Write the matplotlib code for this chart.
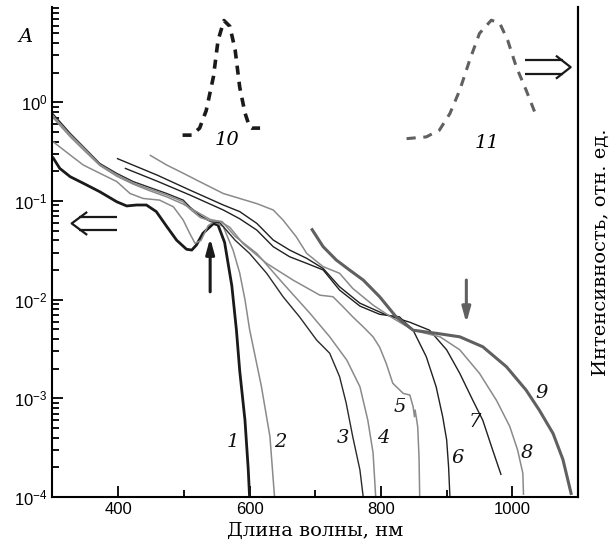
import matplotlib
matplotlib.use("Agg")
import matplotlib.pyplot as plt
from matplotlib.lines import Line2D
from matplotlib.ticker import MultipleLocator, LogLocator, NullFormatter

plt.rcParams["font.family"] = ["Liberation Sans", "DejaVu Sans"]
plt.rcParams["mathtext.fontset"] = "custom"
plt.rcParams["mathtext.rm"] = "Liberation Sans"
plt.rcParams["mathtext.it"] = "Liberation Sans:italic"

# --- absorption spectra, A (log scale) ---
wl_1 = [300, 311, 327, 347, 372, 398, 413, 428, 443, 458, 474, 489, 504, 512, 519, 529,
        545, 552, 562, 573, 580, 585, 593, 598, 600]
A_1 = [0.28, 0.214, 0.176, 0.151, 0.124, 0.098, 0.089, 0.091, 0.091, 0.078, 0.055, 0.040,
       0.0324, 0.0318, 0.0357, 0.047, 0.059, 0.057, 0.038, 0.0138, 0.0049, 0.0019, 0.0006,
       0.00019, 0.0001]

wl_2 = [301, 327, 347, 372, 398, 418, 438, 463, 484, 499, 509, 517, 526, 537, 546, 560,
        575, 585, 593, 600, 618, 631, 638]
A_2 = [0.398, 0.292, 0.231, 0.191, 0.157, 0.119, 0.106, 0.102, 0.0873, 0.064, 0.0468,
       0.0372, 0.0398, 0.0562, 0.0617, 0.055, 0.0316, 0.0186, 0.010, 0.005, 0.00132,
       0.00041, 0.0001]

wl_3 = [300, 327, 347, 372, 398, 423, 448, 474, 499, 509, 525, 540, 555, 578, 600, 626,
        651, 676, 702, 722, 737, 747, 757, 768, 773]
A_3 = [0.773, 0.484, 0.355, 0.24, 0.19, 0.157, 0.137, 0.119, 0.102, 0.087, 0.071, 0.062,
       0.060, 0.040, 0.0294, 0.0185, 0.0107, 0.0067, 0.0039, 0.00286, 0.00166, 0.0009,
       0.00041, 0.000188, 0.0001]

wl_4 = [300, 327, 347, 372, 398, 423, 448, 474, 499, 509, 525, 540, 558, 578, 611, 651,
        692, 722, 748, 768, 780, 788, 792]
A_4 = [0.733, 0.468, 0.347, 0.234, 0.184, 0.151, 0.132, 0.115, 0.098, 0.083, 0.068, 0.063,
       0.062, 0.0437, 0.0294, 0.0146, 0.00726, 0.0042, 0.00244, 0.00131, 0.0006, 0.00028,
       0.0001]

wl_5 = [300, 327, 347, 372, 398, 423, 448, 474, 499, 509, 525, 540, 555, 570, 590, 626,
        666, 707, 727, 742, 757, 773, 788, 798, 808, 818, 834, 844, 849, 851, 852, 854,
        856, 858, 859]
A_5 = [0.708, 0.447, 0.331, 0.229, 0.178, 0.148, 0.127, 0.110, 0.093, 0.085, 0.074, 0.065,
       0.062, 0.054, 0.037, 0.0233, 0.0158, 0.0111, 0.0107, 0.0085, 0.0067, 0.0053, 0.0042,
       0.0033, 0.00226, 0.00142, 0.00112, 0.00108, 0.00082, 0.00065, 0.00076, 0.00063,
       0.00051, 0.00025, 0.0001]

wl_6 = [410, 460, 509, 560, 585, 611, 636, 661, 687, 712, 737, 768, 798, 828, 849, 869,
        884, 894, 900, 903, 905]
A_6 = [0.215, 0.158, 0.115, 0.081, 0.066, 0.0507, 0.0344, 0.0272, 0.0233, 0.020, 0.0125,
       0.0086, 0.0071, 0.0067, 0.0049, 0.00264, 0.00131, 0.00065, 0.00038, 0.0002, 0.0001]

wl_7 = [398, 460, 509, 560, 585, 611, 636, 661, 687, 712, 737, 768, 808, 844, 874, 900,
        920, 940, 955, 970, 983]
A_7 = [0.27, 0.182, 0.129, 0.091, 0.078, 0.0593, 0.0402, 0.0318, 0.0262, 0.0207, 0.0135,
       0.0092, 0.007, 0.0059, 0.0049, 0.0031, 0.00179, 0.00095, 0.0006, 0.0003, 0.000167]

wl_8 = [448, 474, 499, 524, 560, 611, 636, 651, 671, 687, 712, 737, 757, 788, 818, 849,
        879, 890, 920, 950, 976, 996, 1008, 1016, 1017]
A_8 = [0.292, 0.231, 0.191, 0.157, 0.119, 0.094, 0.081, 0.064, 0.0434, 0.0294, 0.0216,
       0.0185, 0.013, 0.0088, 0.0065, 0.0049, 0.00437, 0.0042, 0.0031, 0.00179, 0.00095,
       0.00052, 0.0003, 0.000174, 0.000105]

wl_9 = [694, 712, 732, 752, 773, 798, 823, 849, 884, 920, 955, 991, 1021, 1041, 1062,
        1077, 1090]
A_9 = [0.0527, 0.0344, 0.0252, 0.020, 0.0158, 0.0107, 0.0067, 0.0049, 0.00456, 0.0042,
       0.00333, 0.00209, 0.00121, 0.00076, 0.00044, 0.00024, 0.000105]

# --- luminescence spectra, normalised intensity (right axis) ---
wl_10 = [498, 512, 524, 534, 545, 552, 561, 570, 578, 585, 593, 600, 603, 616]
I_10 = [0.0, 0.0, 0.06, 0.21, 0.50, 0.81, 0.98, 0.93, 0.73, 0.41, 0.19, 0.07, 0.06, 0.06]

wl_11 = [839, 869, 889, 905, 920, 935, 950, 968, 981, 993, 1006, 1021, 1037]
I_11 = [-0.03, -0.015, 0.043, 0.185, 0.385, 0.64, 0.87, 0.983, 0.955, 0.81, 0.584, 0.385,
        0.156]

# curve label positions (wavelength, A)
LABELS = ["1", "2", "3", "4", "5", "6", "7", "8", "9"]
LABEL_WL = [574, 646, 742, 803, 828, 917, 943, 1022, 1044]
LABEL_A = [3.6e-4, 3.6e-4, 4.0e-4, 4.0e-4, 8.2e-4, 2.5e-4, 5.8e-4, 2.8e-4, 1.13e-3]

BLACK = "#1a1a1a"
GRAY = "#8a8a8a"
DGRAY = "#606060"

fig = plt.figure(figsize=(6.14, 5.53), dpi=100)
ax = fig.add_axes([0.0855, 0.1013, 0.8559, 0.8857])

spectra = [
    (wl_1, A_1, BLACK, 2.0),
    (wl_2, A_2, GRAY, 1.1),
    (wl_3, A_3, "#2a2a2a", 1.0),
    (wl_4, A_4, GRAY, 1.1),
    (wl_5, A_5, GRAY, 1.1),
    (wl_6, A_6, "#202020", 1.0),
    (wl_7, A_7, "#202020", 1.0),
    (wl_8, A_8, GRAY, 1.1),
    (wl_9, A_9, DGRAY, 2.2),
]
for wl, a, c, lw in spectra:
    ax.plot(wl, a, color=c, lw=lw, solid_capstyle="butt")

ax.set_yscale("log")
ax.set_xlim(300, 1100)
ax.set_ylim(1e-4, 9.2)

ax.xaxis.set_major_locator(MultipleLocator(200))
ax.xaxis.set_minor_locator(MultipleLocator(100))
ax.yaxis.set_major_locator(LogLocator(base=10, numticks=10))
ax.yaxis.set_minor_locator(LogLocator(base=10, subs=range(2, 10), numticks=20))
ax.yaxis.set_minor_formatter(NullFormatter())
ax.set_yticks([1e-4, 1e-3, 1e-2, 1e-1, 1e0])

ax.tick_params(which="both", direction="in", labelsize=12, width=1.3, right=False, top=False)
ax.tick_params(axis="y", which="major", length=8)
ax.tick_params(axis="y", which="minor", length=5)
ax.tick_params(axis="x", which="major", length=8)
ax.tick_params(axis="x", which="minor", length=5)
ax.spines["top"].set_visible(False)
for s in ("left", "bottom", "right"):
    ax.spines[s].set_linewidth(1.5)

ax.set_xlabel("Длина волны, нм", family="DejaVu Serif", fontsize=14, labelpad=4)
ax.text(-0.052, 0.939, "A", transform=ax.transAxes, family="DejaVu Serif",
        style="italic", fontsize=14, ha="center", va="center")

for lab, x, y in zip(LABELS, LABEL_WL, LABEL_A):
    ax.text(x, y, lab, family="DejaVu Serif", style="italic", fontsize=14,
            ha="center", va="center", color="#111111")

# arrows marking features
ax.annotate("", xy=(540, 0.042), xytext=(540, 0.012),
            arrowprops=dict(arrowstyle="-|>,head_length=0.9,head_width=0.25",
                            color=BLACK, lw=2.2, shrinkA=0, shrinkB=0))
ax.annotate("", xy=(930, 0.0058), xytext=(930, 0.0158),
            arrowprops=dict(arrowstyle="-|>,head_length=0.9,head_width=0.25",
                            color=DGRAY, lw=2.2, shrinkA=0, shrinkB=0))

# right axis: luminescence intensity
ax2 = ax.twinx()
ax2.set_ylim(-3.094, 1.094)
ax2.plot(wl_10, I_10, color=BLACK, lw=2.6, ls=(0, (2.5, 2.0)))
ax2.plot(wl_11, I_11, color=DGRAY, lw=2.2, ls=(0, (3.0, 2.5)))
ax2.set_yticks([])
for s in ("top", "left", "bottom"):
    ax2.spines[s].set_visible(False)
ax2.spines["right"].set_linewidth(1.5)
ax2.set_ylabel("Интенсивность, отн. ед.", family="DejaVu Serif", fontsize=14,
               labelpad=10)
ax2.text(565, -0.043, "10", family="DejaVu Serif", style="italic", fontsize=14,
         ha="center", va="center")
ax2.text(962, -0.068, "11", family="DejaVu Serif", style="italic", fontsize=14,
         ha="center", va="center")

# double arrows: left -> absorbance axis, right -> intensity axis
arrow_kw = dict(transform=ax.transAxes, color=BLACK, lw=1.6, solid_capstyle="butt")
for yy in (0.572, 0.545):
    ax.add_line(Line2D([0.050, 0.122], [yy, yy], **arrow_kw))
ax.add_line(Line2D([0.066, 0.0365, 0.066], [0.582, 0.5585, 0.535], **arrow_kw))
for yy in (0.892, 0.863):
    ax.add_line(Line2D([0.899, 0.972], [yy, yy], **arrow_kw))
ax.add_line(Line2D([0.958, 0.986, 0.958], [0.901, 0.8775, 0.854], **arrow_kw))

fig.savefig("out.png", dpi=100)
